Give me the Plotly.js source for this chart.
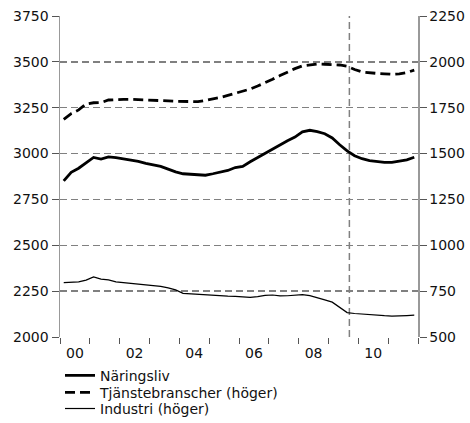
<!DOCTYPE html>
<html>
<head>
<meta charset="utf-8">
<script src="https://cdn.plot.ly/plotly-3.0.1.min.js"></script>
<style>html,body{margin:0;padding:0;background:#fff;}#chart{width:470px;height:423px;}</style>
</head>
<body>
<div id="chart"></div>
<script>
// Quarterly observations (decimal year, mid-quarter)
const quarters = [
  2000.125, 2000.375, 2000.625, 2000.875,
  2001.125, 2001.375, 2001.625, 2001.875,
  2002.125, 2002.375, 2002.625, 2002.875,
  2003.125, 2003.375, 2003.625, 2003.875,
  2004.125, 2004.375, 2004.625, 2004.875,
  2005.125, 2005.375, 2005.625, 2005.875,
  2006.125, 2006.375, 2006.625, 2006.875,
  2007.125, 2007.375, 2007.625, 2007.875,
  2008.125, 2008.375, 2008.625, 2008.875,
  2009.125, 2009.375, 2009.625, 2009.875,
  2010.125, 2010.375, 2010.625, 2010.875,
  2011.125, 2011.375, 2011.625, 2011.875
];
// Näringsliv (left axis)
const naringsliv = [
  2851, 2898, 2920, 2950,
  2979, 2970, 2982, 2978,
  2972, 2965, 2957, 2947,
  2940, 2930, 2915, 2900,
  2890, 2886, 2884, 2882,
  2890, 2897, 2908, 2924,
  2930, 2955, 2978, 3000,
  3026, 3048, 3070, 3090,
  3118, 3127, 3120, 3108,
  3085, 3048, 3015, 2988,
  2972, 2962, 2955, 2952,
  2952, 2957, 2966, 2980
];
// Tjänstebranscher (right axis)
const tjanste = [
  1686, 1718, 1738, 1770,
  1777, 1778, 1792, 1795,
  1796, 1796, 1795, 1792,
  1789, 1788, 1787, 1785,
  1783, 1782, 1783, 1790,
  1797, 1806, 1817, 1828,
  1840, 1852, 1868, 1885,
  1905, 1925, 1945, 1963,
  1978, 1985, 1988, 1987,
  1986, 1983, 1976, 1958,
  1945, 1940, 1937, 1935,
  1932, 1934, 1942, 1955
];
// Industri (right axis)
const industri = [
  796, 799, 801, 810,
  828, 816, 811, 801,
  797, 794, 789, 785,
  779, 776, 768, 757,
  738, 735, 732, 730,
  728, 726, 723, 722,
  718, 716, 720, 727,
  729, 724, 725, 727,
  731, 726, 716, 702,
  690, 662, 633, 628,
  624, 620, 617, 616,
  614, 614, 617, 619
];
const tickYears = [2000.5, 2002.5, 2004.5, 2006.5, 2008.5, 2010.5];
const tickLabels = ['00', '02', '04', '06', '08', '10'];
const leftTicks = [2000, 2250, 2500, 2750, 3000, 3250, 3500, 3750];
const rightTicks = [500, 750, 1000, 1250, 1500, 1750, 2000, 2250];
const forecastLine = 2009.7;

const FONT = 'Verdana, "DejaVu Sans", sans-serif';
const GRID = '#808080';
const FS = 14;

const traces = [
  {x: quarters, y: naringsliv, name: 'Näringsliv', type: 'scatter', mode: 'lines',
   line: {color: '#000', width: 2.8}, yaxis: 'y', legend: 'legend'},
  {x: quarters, y: tjanste, name: 'Tjänstebranscher (höger)', type: 'scatter', mode: 'lines',
   line: {color: '#000', width: 2.8, dash: '10px,5px'}, yaxis: 'y2', legend: 'legend2'},
  {x: quarters, y: industri, name: 'Industri (höger)', type: 'scatter', mode: 'lines',
   line: {color: '#000', width: 1.2}, yaxis: 'y2', legend: 'legend3'}
];

function leg(y) {
  return {x: 0, y: y, xanchor: 'left', yanchor: 'middle', orientation: 'v',
          font: {family: FONT, size: FS, color: '#111'}, bgcolor: 'rgba(0,0,0,0)',
          borderwidth: 0};
}

const layout = {
  width: 470, height: 423,
  margin: {l: 60, r: 52, t: 16, b: 86, autoexpand: false},
  paper_bgcolor: '#fff', plot_bgcolor: '#fff',
  font: {family: FONT, size: FS, color: '#111'},
  showlegend: true,
  legend: leg(-0.121),
  legend2: leg(-0.174),
  legend3: leg(-0.224),
  xaxis: {
    range: [2000, 2012], showgrid: false, zeroline: false, showline: false,
    tickmode: 'array', tickvals: tickYears, ticktext: tickLabels, ticks: '',
    ticklabelstandoff: 6,
    tickfont: {family: FONT, size: FS, color: '#111'},
    minor: {tick0: 2000, dtick: 1, ticks: 'outside', ticklen: 6, tickwidth: 1, tickcolor: '#555', showgrid: false}
  },
  yaxis: {
    range: [2000, 3750], tickmode: 'array', tickvals: leftTicks,
    showgrid: true, gridcolor: GRID, gridwidth: 1.5, griddash: '7px,4px',
    zeroline: false, showline: true, linecolor: '#999', linewidth: 1.5,
    ticks: 'outside', ticklen: 7, tickcolor: '#555', tickwidth: 1,
    tickfont: {family: FONT, size: FS, color: '#111'}
  },
  yaxis2: {
    range: [500, 2250], overlaying: 'y', side: 'right', tickmode: 'array', tickvals: rightTicks,
    showgrid: false, zeroline: false, showline: true, linecolor: '#999', linewidth: 1.5,
    ticks: 'outside', ticklen: 7, tickcolor: '#555', tickwidth: 1,
    tickfont: {family: FONT, size: FS, color: '#111'}
  },
  shapes: [
    {type: 'line', xref: 'x', yref: 'paper', x0: forecastLine, x1: forecastLine, y0: 0, y1: 1,
     line: {color: GRID, width: 1.5, dash: '7px,4px'}, layer: 'below'}
  ]
};

Plotly.newPlot('chart', traces, layout, {displayModeBar: false, staticPlot: true});
</script>
</body>
</html>
